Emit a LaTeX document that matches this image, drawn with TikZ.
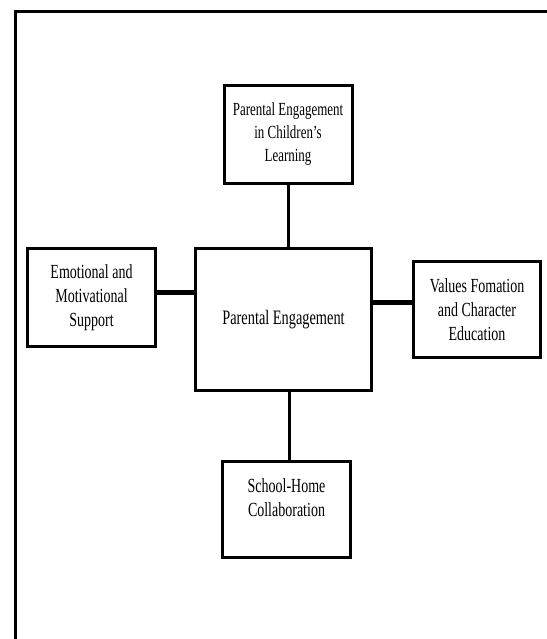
\documentclass[tikz,border=0pt]{standalone}
\usepackage{fontspec}
\setmainfont{Liberation Serif}[FakeStretch=0.7]
\begin{document}
\begin{tikzpicture}[x=1pt,y=-1pt,
  box/.style={draw=black, line width=3pt, fill=white, inner sep=0pt, align=center,
    font=\fontsize{20}{24}\selectfont},
  link/.style={draw=black, line width=3pt},
  thicklink/.style={draw=black, line width=5pt}]
\useasboundingbox (0,0) rectangle (546,639);
% outer frame (top and left edges only)
\coordinate (frameTR) at (546,11.5);
\coordinate (frameTL) at (15.5,11.5);
\coordinate (frameBL) at (15.5,639);
\draw[line width=2.5pt, line cap=rect] (frameTR) -- (frameTL) -- (frameBL);
% boxes
\node[box, minimum width=128pt, minimum height=98pt, font=\fontsize{18.5}{23}\selectfont] (top) at (288,134.5)
  {Parental Engagement\\in Children’s\\Learning};
\node[box, minimum width=176pt, minimum height=142pt, font=\fontsize{20.5}{24}\selectfont] (center) at (283.5,319.5)
  {Parental Engagement};
\node[box, minimum width=128pt, minimum height=98pt] (left) at (91.5,297.5)
  {Emotional and\\Motivational\\Support};
\node[box, minimum width=127pt, minimum height=96pt] (right) at (477,309.5)
  {Values Fomation\\and Character\\Education};
\node[box, minimum width=128pt, minimum height=96pt] (bot) at (286.5,509.5)
  {School-Home\\Collaboration\\\mbox{}};
% connectors
\draw[link] (top.south) -- (top.south |- center.north);
\draw[link] ([xshift=2.5pt]bot.north) -- ([xshift=2.5pt]bot.north |- center.south);
\draw[thicklink] ([yshift=5.5pt]left.east) -- ([yshift=5.5pt]left.east -| center.west);
\draw[thicklink] ([yshift=7.5pt]right.west) -- ([yshift=7.5pt]right.west -| center.east);
\end{tikzpicture}
\end{document}
